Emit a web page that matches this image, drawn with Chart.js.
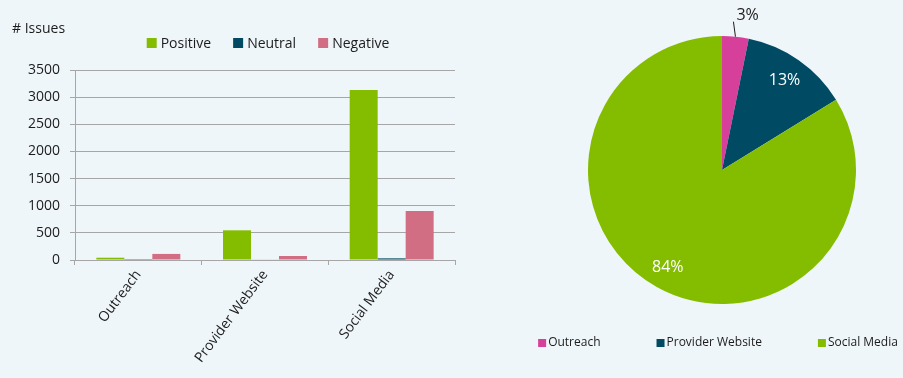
<!DOCTYPE html>
<html><head><meta charset="utf-8">
<script src="https://cdn.jsdelivr.net/npm/chart.js@4"></script>
<style>
html,body{margin:0;padding:0;background:#EEF6F9;overflow:hidden;width:903px;height:378px;}
#bar{position:absolute;left:0;top:0;}
#pie{position:absolute;left:480px;top:0;}
</style></head><body>
<canvas id="bar" width="470" height="378"></canvas>
<canvas id="pie" width="423" height="378"></canvas>
<script>
// ---- data ----
const categories = ['Outreach', 'Provider Website', 'Social Media'];
const seriesNames = ['Positive', 'Neutral', 'Negative'];
const positive = [42, 547, 3130];
const neutral = [3, 8, 30];
const negative = [112, 74, 902];
const yMin = 0, yMax = 3500, yStep = 500;
const yTitle = '# Issues';

const pieLabels = ['Outreach', 'Provider Website', 'Social Media'];
const pieShares = [3.2, 13.0, 83.8];
const pieTexts = ['3%', '13%', '84%'];

const FONT = '"Open Sans", "Noto Sans", sans-serif';
const TXT = '#1C1C1C';
const GRID = '#A6A6A6';
const barColors = ['#84BD00', '#004B63', '#D26E84'];
const pieColors = ['#D6409B', '#004B63', '#84BD00'];

// custom legend for the bar chart
const barLegend = {
  id: 'barLegend',
  afterDraw(chart) {
    const ctx = chart.ctx; ctx.save();
    ctx.font = '14px ' + FONT;
    const items = chart.data.datasets.map(d => ({text: d.label, color: d.backgroundColor, w: ctx.measureText(d.label).width}));
    const box = 10, gap = 4, sep = 22;
    const total = items.reduce((s, it) => s + box + gap + it.w, 0) + sep * (items.length - 1);
    let x = (chart.chartArea.left + chart.chartArea.right) / 2 + 3 - total / 2;
    const yc = chart.chartArea.top - 27;
    ctx.textBaseline = 'middle'; ctx.textAlign = 'left';
    items.forEach(it => {
      ctx.fillStyle = it.color; ctx.fillRect(x, yc - 5, box, box);
      ctx.fillStyle = TXT; ctx.fillText(it.text, x + box + gap, yc + 1);
      x += box + gap + it.w + sep;
    });
    ctx.restore();
  }
};

new Chart(document.getElementById('bar'), {
  type: 'bar',
  data: {
    labels: categories,
    datasets: [
      {label: seriesNames[0], data: positive, backgroundColor: barColors[0]},
      {label: seriesNames[1], data: neutral, backgroundColor: barColors[1]},
      {label: seriesNames[2], data: negative, backgroundColor: barColors[2]}
    ]
  },
  options: {
    responsive: false, animation: false, devicePixelRatio: 1,
    layout: {padding: {left: 12, right: 15, top: 21, bottom: 0}},
    datasets: {bar: {categoryPercentage: 0.663, barPercentage: 1.0}},
    plugins: {
      title: {display: true, text: yTitle, align: 'start', color: TXT, font: {family: FONT, size: 14, weight: 'normal'}, padding: {top: 0, bottom: 32.2}},
      legend: {display: false},
      tooltip: {enabled: false}
    },
    scales: {
      x: {
        grid: {display: true, drawOnChartArea: false, drawTicks: true, tickLength: 5, color: GRID},
        border: {color: GRID},
        ticks: {minRotation: 53, maxRotation: 53, color: TXT, font: {family: FONT, size: 14}, padding: 2},
        afterFit(s) { s.height = 118; }
      },
      y: {
        min: yMin, max: yMax,
        ticks: {stepSize: yStep, color: TXT, font: {family: FONT, size: 14}, padding: 10, callback: v => String(v)},
        grid: {color: GRID, tickLength: 5},
        border: {color: GRID},
        afterFit(s) { s.width = 63; }
      }
    }
  },
  plugins: [barLegend]
});

// pie labels + legend
const pieExtras = {
  id: 'pieExtras',
  afterDatasetsDraw(chart) {
    const ctx = chart.ctx; ctx.save();
    const meta = chart.getDatasetMeta(0);
    ctx.font = '16px ' + FONT;
    ctx.textBaseline = 'middle';
    meta.data.forEach((arc, i) => {
      const p = arc.getProps(['x', 'y', 'startAngle', 'endAngle', 'outerRadius'], true);
      const mid = (p.startAngle + p.endAngle) / 2;
      if (i === 0) {
        const ex = p.x + Math.cos(mid) * p.outerRadius, ey = p.y + Math.sin(mid) * p.outerRadius;
        const lx = ex - 2, ly = ey - 15;
        ctx.strokeStyle = TXT; ctx.lineWidth = 1;
        ctx.beginPath(); ctx.moveTo(ex, ey); ctx.lineTo(lx, ly); ctx.stroke();
        ctx.fillStyle = TXT; ctx.textAlign = 'left';
        ctx.fillText(pieTexts[i], lx + 3, ly - 6);
      } else {
        const r = p.outerRadius * (i === 2 ? 0.83 : 0.815);
        ctx.fillStyle = '#FFFFFF'; ctx.textAlign = 'center';
        ctx.fillText(pieTexts[i], p.x + Math.cos(mid) * r, p.y + Math.sin(mid) * r);
      }
    });
    // legend
    ctx.font = '12px ' + FONT;
    const labels = chart.data.labels;
    const colors = chart.data.datasets[0].backgroundColor;
    const box = 8, gap = 2, sep = 56;
    const widths = labels.map(t => ctx.measureText(t).width);
    const total = widths.reduce((s, w) => s + box + gap + w, 0) + sep * (labels.length - 1);
    let x = (chart.chartArea.left + chart.chartArea.right) / 2 - 4 - total / 2;
    const yc = 343;
    ctx.textAlign = 'left';
    labels.forEach((t, i) => {
      ctx.fillStyle = colors[i]; ctx.fillRect(x, yc - 4, box, box);
      ctx.fillStyle = TXT; ctx.fillText(t, x + box + gap, yc);
      x += box + gap + widths[i] + sep;
    });
    ctx.restore();
  }
};

new Chart(document.getElementById('pie'), {
  type: 'pie',
  data: {
    labels: pieLabels,
    datasets: [{data: pieShares, backgroundColor: pieColors, borderWidth: 0, hoverBorderWidth: 0, hoverOffset: 0}]
  },
  options: {
    responsive: false, animation: false, devicePixelRatio: 1,
    layout: {padding: {left: 108, right: 47, top: 36, bottom: 74}},
    plugins: {legend: {display: false}, tooltip: {enabled: false}}
  },
  plugins: [pieExtras]
});
</script>
</body></html>
